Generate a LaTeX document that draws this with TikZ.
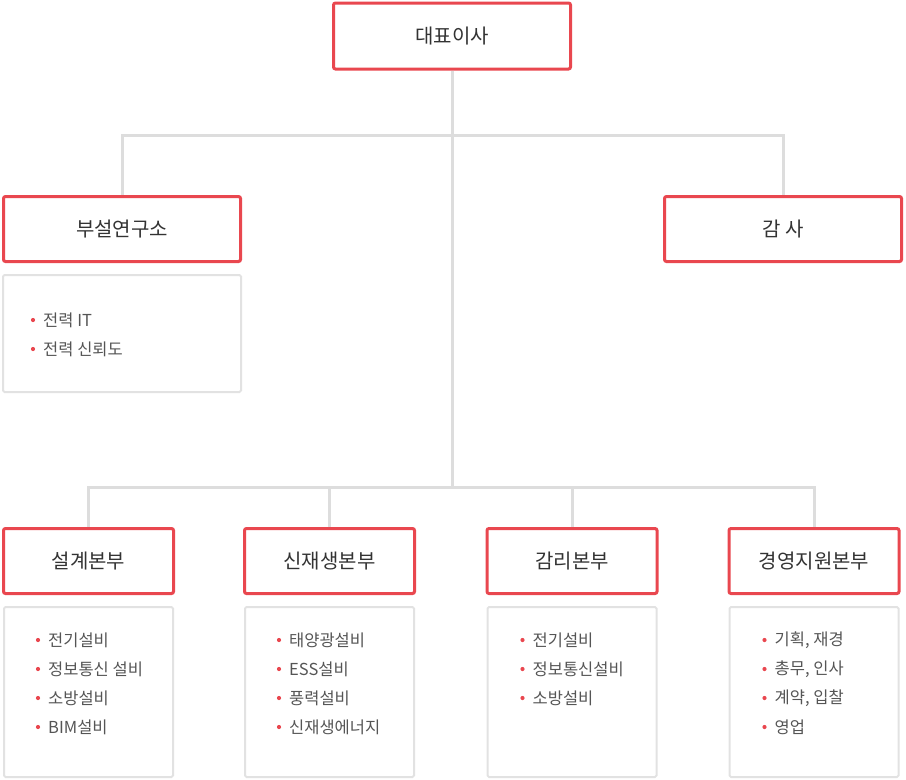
\documentclass[tikz,border=0pt]{standalone}
\usepackage{fontspec}
\setmainfont{Noto Sans CJK KR}
\usepackage{tikz}
\definecolor{ptred}{HTML}{E9474F}
\definecolor{linegray}{HTML}{DDDDDD}
\definecolor{boxgray}{HTML}{E2E2E2}
\definecolor{headtxt}{HTML}{333333}
\definecolor{itemtxt}{HTML}{555555}
\tikzset{
  head/.style={draw=ptred,line width=3pt,rounded corners=2pt,fill=white,
    text=headtxt,font=\fontsize{20}{24}\selectfont,inner sep=0pt},
  listbox/.style={draw=boxgray,line width=2pt,rounded corners=1.5pt,inner sep=0pt},
  item/.style={anchor=west,inner sep=0pt,text=itemtxt,font=\fontsize{16.5}{20}\selectfont},
  conn/.style={draw=linegray,line width=3pt}
}
\begin{document}
\begin{tikzpicture}[x=1pt,y=-1pt]
  \useasboundingbox (0,0) rectangle (906,780);
  % top
  \node[head,minimum width=237,minimum height=66] (ceo) at (452,36) {대표이사};
  \node[head,minimum width=237,minimum height=65] (lab) at (122,229) {부설연구소};
  \node[head,minimum width=237,minimum height=65] (audit) at (783,229) {감 사};
  \node[listbox,minimum width=238,minimum height=117] (labl) at (122,333.5) {};
  % departments
  \node[head,minimum width=170,minimum height=65] (des) at (88.5,561) {설계본부};
  \node[head,minimum width=170,minimum height=65] (ren) at (329.5,561) {신재생본부};
  \node[head,minimum width=170,minimum height=65] (sup) at (572,561) {감리본부};
  \node[head,minimum width=170,minimum height=65] (mgt) at (814,561) {경영지원본부};
  \foreach \d in {des,ren,sup,mgt}
    \node[listbox,minimum width=169,minimum height=170] (\d l) at (\d.center |- 0,692) {};
  % connectors
  \coordinate (hup) at (452,135);
  \coordinate (hlow) at (452,487);
  \draw[conn] (ceo.south) -- (hlow);
  \draw[conn] (lab.north) |- (hup) -| (audit.north);
  \draw[conn] (des.north) |- (hlow) -| (mgt.north);
  \draw[conn] (ren.north) -- (ren.north |- hlow);
  \draw[conn] (sup.north) -- (sup.north |- hlow);
  % lists
  \foreach \t [count=\i] in {전력 IT,전력 신뢰도}{
    \node[item] (labi\i) at ([shift={(41,17+29*\i)}]labl.north west) {\t};
    \fill[ptred] ([xshift=-10]labi\i.west) circle (2.1);}
  \foreach \t [count=\i] in {전기설비,정보통신 설비,소방설비,BIM설비}{
    \node[item] (desi\i) at ([shift={(45,5+29*\i)}]desl.north west) {\t};
    \fill[ptred] ([xshift=-10]desi\i.west) circle (2.1);}
  \foreach \t [count=\i] in {태양광설비,ESS설비,풍력설비,신재생에너지}{
    \node[item] (reni\i) at ([shift={(45,5+29*\i)}]renl.north west) {\t};
    \fill[ptred] ([xshift=-10]reni\i.west) circle (2.1);}
  \foreach \t [count=\i] in {전기설비,정보통신설비,소방설비}{
    \node[item] (supi\i) at ([shift={(46,5+29*\i)}]supl.north west) {\t};
    \fill[ptred] ([xshift=-10]supi\i.west) circle (2.1);}
  \foreach \t [count=\i] in {{기획, 재경},{총무, 인사},{계약, 입찰},영업}{
    \node[item] (mgti\i) at ([shift={(46,5+29*\i)}]mgtl.north west) {\t};
    \fill[ptred] ([xshift=-10]mgti\i.west) circle (2.1);}
\end{tikzpicture}
\end{document}
